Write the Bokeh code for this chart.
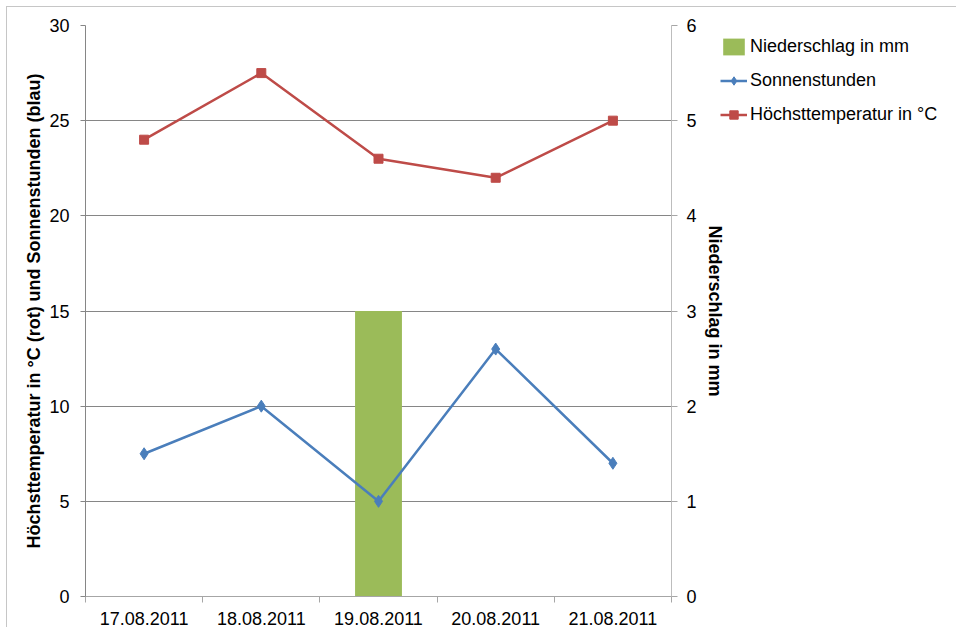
from bokeh.plotting import figure
from bokeh.models import (Range1d, LinearAxis, FixedTicker, Legend, LegendItem,
                          ColumnDataSource)
from bokeh.layouts import column, row
from bokeh.embed import file_html
from bokeh.resources import INLINE

dates = ["17.08.2011", "18.08.2011", "19.08.2011", "20.08.2011", "21.08.2011"]
niederschlag = [0, 0, 3, 0, 0]
sonnenstunden = [7.5, 10, 5, 13, 7]
hoechsttemp = [24, 27.5, 23, 22, 25]
left_ticks = [0, 5, 10, 15, 20, 25, 30]
right_ticks = [0, 1, 2, 3, 4, 5, 6]
series_names = ["Niederschlag in mm", "Sonnenstunden", "Höchsttemperatur in °C"]

FONT = "Liberation Sans"
FS = "18px"
GREEN, BLUE, RED = "#9BBB59", "#4A7EBB", "#BE4B48"
xpos = [i + 0.5 for i in range(len(dates))]
src = ColumnDataSource(dict(x=xpos, rain=niederschlag, sun=sonnenstunden, temp=hoechsttemp))

p = figure(frame_width=586, frame_height=571, output_backend="svg", toolbar_location=None,
           x_range=Range1d(0, len(dates)), y_range=Range1d(0, 30),
           min_border_left=78, min_border_top=18, min_border_right=51, min_border_bottom=30)
p.extra_y_ranges = {"rain": Range1d(0, 6)}
p.outline_line_color = None
p.background_fill_color = "white"

# x axis
xa = p.xaxis[0]
xa.ticker = FixedTicker(ticks=xpos, minor_ticks=list(range(len(dates) + 1)))
xa.major_label_overrides = {x: d for x, d in zip(xpos, dates)}
xa.major_tick_line_color = None
xa.major_tick_out = 0
xa.major_tick_in = 0
xa.minor_tick_out = 6
xa.minor_tick_in = 0
xa.minor_tick_line_color = "#a6a6a6"
xa.axis_line_color = "#a6a6a6"
xa.major_label_standoff = 9
xa.major_label_text_font = FONT
xa.major_label_text_font_size = FS
xa.major_label_text_color = "black"

# left axis
ya = p.yaxis[0]
ya.ticker = FixedTicker(ticks=left_ticks)
ya.minor_tick_line_color = None
ya.major_tick_out = 5
ya.major_tick_in = 0
ya.major_tick_line_color = "#868686"
ya.axis_line_color = "#868686"
ya.major_label_standoff = 11
ya.major_label_text_font = FONT
ya.major_label_text_font_size = FS
ya.major_label_text_color = "black"
ya.axis_label = "Höchsttemperatur in °C (rot) und Sonnenstunden (blau)"
ya.axis_label_text_font = FONT
ya.axis_label_text_font_style = "bold"
ya.axis_label_text_font_size = FS
ya.axis_label_text_color = "black"
ya.axis_label_standoff = 2

# right axis
ra = LinearAxis(y_range_name="rain", ticker=FixedTicker(ticks=right_ticks))
ra.minor_tick_line_color = None
ra.major_tick_out = 6
ra.major_tick_in = 0
ra.major_tick_line_color = "#a6a6a6"
ra.axis_line_color = "#bdbdbd"
ra.major_label_standoff = 9
ra.major_label_text_font = FONT
ra.major_label_text_font_size = FS
ra.major_label_text_color = "black"
ra.axis_label = "Niederschlag in mm"
ra.axis_label_text_font = FONT
ra.axis_label_text_font_style = "bold"
ra.axis_label_text_font_size = FS
ra.axis_label_text_color = "black"
ra.axis_label_standoff = 5
p.add_layout(ra, "right")

# grid
p.xgrid.grid_line_color = None
p.ygrid.ticker = FixedTicker(ticks=left_ticks)
p.ygrid.grid_line_color = "#868686"
p.ygrid.grid_line_width = 1

p.vbar(x="x", top="rain", width=0.4, bottom=0, source=src, y_range_name="rain",
       fill_color=GREEN, line_color=None)
p.line("x", "sun", source=src, line_color=BLUE, line_width=2.5)
p.scatter("x", "sun", source=src, marker="diamond", size=12, fill_color=BLUE, line_color=BLUE)
p.line("x", "temp", source=src, line_color=RED, line_width=2.5)
p.scatter("x", "temp", source=src, marker="square", size=9, fill_color=RED, line_color=RED)

# legend panel: separate transparent figure whose view range excludes the data,
# so only the legend is visible there
q = figure(width=236, height=200, output_backend="svg", toolbar_location=None,
           x_range=Range1d(-3, -2), y_range=Range1d(-3, -2), x_axis_type=None, y_axis_type=None,
           min_border_left=0, min_border_right=0, min_border_top=18, min_border_bottom=0)
q.outline_line_color = None
q.grid.grid_line_color = None
q.background_fill_alpha = 0
q.border_fill_alpha = 0
q.styles = {"margin-left": "-7px"}
lb = q.vbar(x="x", top="rain", width=0.4, source=src, fill_color=GREEN, line_color=None)
ls1 = q.line("x", "sun", source=src, line_color=BLUE, line_width=2.5)
ls2 = q.scatter("x", "sun", source=src, marker="diamond", size=12, fill_color=BLUE, line_color=BLUE)
lt1 = q.line("x", "temp", source=src, line_color=RED, line_width=2.5)
lt2 = q.scatter("x", "temp", source=src, marker="square", size=9, fill_color=RED, line_color=RED)

legend = Legend(items=[
    LegendItem(label=series_names[0], renderers=[lb]),
    LegendItem(label=series_names[1], renderers=[ls1, ls2]),
    LegendItem(label=series_names[2], renderers=[lt1, lt2]),
], location="top_left")
legend.title = " "
legend.title_text_font_size = "8px"
legend.title_standoff = 2
legend.border_line_color = None
legend.background_fill_alpha = 0
legend.padding = 0
legend.margin = 0
legend.spacing = 13
legend.glyph_width = 27
legend.glyph_height = 21
legend.label_height = 21
legend.label_standoff = 3
legend.label_text_font = FONT
legend.label_text_font_size = FS
legend.label_text_color = "black"
legend.label_text_baseline = "middle"
q.add_layout(legend, "center")

layout = column(row(p, q), styles={"margin-left": "6px", "margin-top": "6px",
                                   "border-left": "1px solid #c6c6c6",
                                   "border-top": "1px solid #c6c6c6"})

open("out.html", "w").write(file_html(layout, INLINE))
